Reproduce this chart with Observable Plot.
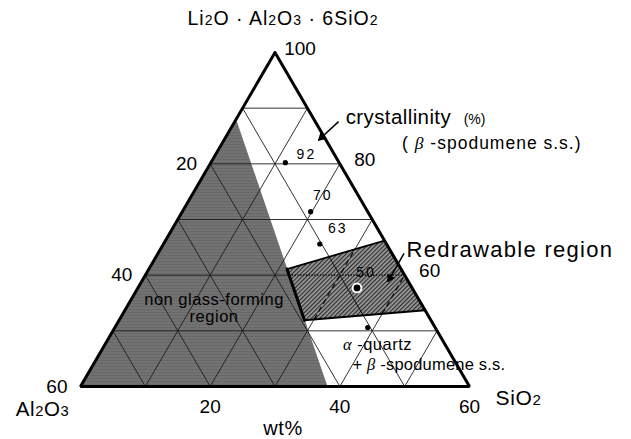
<!DOCTYPE html>
<html>
<head>
<meta charset="utf-8">
<script src="https://cdn.jsdelivr.net/npm/d3@7"></script>
<script src="https://cdn.jsdelivr.net/npm/@observablehq/plot@0.6"></script>
<style>
  html, body { margin: 0; padding: 0; background: #fff; }
  #chart svg { display: block; }
</style>
</head>
<body>
<div id="chart"></div>
<script>
// Ternary section: Li2O·Al2O3·6SiO2 (40–100 wt%), Al2O3 (0–60 wt%), SiO2 (0–60 wt%)
const gridSteps = [10, 20, 30, 40, 50];
const lasTicks = [60, 80, 100];
const al2o3Ticks = [20, 40, 60];
const sio2Ticks = [20, 40, 60];

// Non glass-forming region (wt% SiO2, wt% Al2O3 of each corner)
const nonGlassSiO2 = [0, 0, 38.1];
const nonGlassAl2O3 = [12, 60, 21.9];

// Redrawable region
const redrawSiO2 = [21.3, 33.8, 46.3, 28.6];
const redrawAl2O3 = [17.6, 0, 0, 19.5];

// Glass-ceramic compositions and their β-spodumene crystallinity (%)
const sampleSiO2 = [11.5, 19.8, 24.1, 33.8, 39.0];
const sampleAl2O3 = [8.3, 8.8, 10.3, 8.5, 10.4];
const crystallinity = [92, 70, 63, 50, null];

// Callout arrows (plot units: x along the base, y up from the base)
const calloutFrom = [[39.8, 41.2], [49.9, 20.7]];
const calloutTo = [[36.7, 38.3], [47.4, 16.3]];

// ---- ternary → cartesian (base = 60 wt% wide) ----
const SQ3 = Math.sqrt(3);
const H = 30 * SQ3;
function tern(si, al) {
  const t = 60 - si - al; // LAS6 above 40 wt%
  return [si + t / 2, t * SQ3 / 2];
}
const closed = (pts) => [...pts, pts[0]];

const xSpec = {domain: [0, 60], range: [80, 469]};
const ySpec = {domain: [0, H], range: [386, 52]};
const sx = d3.scaleLinear(xSpec.domain, xSpec.range);
const sy = d3.scaleLinear(ySpec.domain, ySpec.range);

const corners = [tern(0, 0), tern(0, 60), tern(60, 0)];
const nonGlass = nonGlassSiO2.map((s, i) => tern(s, nonGlassAl2O3[i]));
const redraw = redrawSiO2.map((s, i) => tern(s, redrawAl2O3[i]));

// grid lines of the three families
const grid = [];
for (const k of gridSteps) {
  const las = 40 + k;
  grid.push({family: "LAS", a: tern(0, 100 - las), b: tern(100 - las, 0)});
  grid.push({family: "SiO2", a: tern(k, 60 - k), b: tern(k, 0)});
  grid.push({family: "Al2O3", a: tern(60 - k, k), b: tern(0, k)});
}

// clip a segment to a convex polygon (Cyrus–Beck)
function clipSegment(p, q, poly) {
  let area = 0;
  for (let i = 0; i < poly.length; i++) {
    const a = poly[i], b = poly[(i + 1) % poly.length];
    area += a[0] * b[1] - b[0] * a[1];
  }
  const sgn = Math.sign(area);
  const dx = q[0] - p[0], dy = q[1] - p[1];
  let t0 = 0, t1 = 1;
  for (let i = 0; i < poly.length; i++) {
    const a = poly[i], b = poly[(i + 1) % poly.length];
    const ex = b[0] - a[0], ey = b[1] - a[1];
    const num = sgn * (ex * (p[1] - a[1]) - ey * (p[0] - a[0]));
    const den = sgn * (ex * dy - ey * dx);
    if (Math.abs(den) < 1e-12) { if (num < 0) return null; continue; }
    const t = -num / den;
    if (den > 0) t0 = Math.max(t0, t); else t1 = Math.min(t1, t);
    if (t0 >= t1) return null;
  }
  return {a: [p[0] + t0 * dx, p[1] + t0 * dy], b: [p[0] + t1 * dx, p[1] + t1 * dy]};
}
const inner = grid
  .map(g => { const c = clipSegment(g.a, g.b, redraw); return c && {family: g.family, ...c}; })
  .filter(Boolean);

const samples = sampleSiO2.map((s, i) => {
  const xy = tern(s, sampleAl2O3[i]);
  return {x: xy[0], y: xy[1], c: crystallinity[i], inRegion: d3.polygonContains(redraw, xy)};
});
const labelOffsets = [[21, -8], [12, -16], [18, -15], [9, -15]];

// arrowheads: filled triangles just behind each tip
const heads = calloutTo.map((to, i) => {
  const from = calloutFrom[i];
  const px = sx(to[0]) - sx(from[0]), py = sy(to[1]) - sy(from[1]);
  const len = Math.hypot(px, py);
  const ux = px / len, uy = py / len;
  return {
    x: sx.invert(sx(to[0]) - ux * 4.2),
    y: sy.invert(sy(to[1]) - uy * 4.2),
    angle: Math.atan2(ux, -uy) * 180 / Math.PI
  };
});

// letter spacing per label (applied after rendering)
const tracking = new Map();
const X = d => d[0], Y = d => d[1];
const link = (data, opts) => Plot.link(data, {x1: d => d.a[0], y1: d => d.a[1], x2: d => d.b[0], y2: d => d.b[1], ...opts});
const note = (x, y, text, opts, spacing = 0) => {
  if (spacing) tracking.set(text.replace(/\n/g, ""), spacing);
  return Plot.text([{x, y, text}], {x: "x", y: "y", text: "text", ...opts});
};
for (const c of crystallinity) if (c != null) tracking.set(String(c), 2);

const plot = Plot.plot({
  width: 631,
  height: 439,
  margin: 0,
  x: {...xSpec, axis: null},
  y: {...ySpec, axis: null},
  style: {fontFamily: "'Liberation Sans', Arial, Helvetica, sans-serif", fontSize: "17px", background: "#fff", color: "#000"},
  marks: [
    Plot.line(closed(nonGlass), {x: X, y: Y, fill: "url(#grain)", stroke: "none"}),
    link(grid, {stroke: "#1c1c1c", strokeWidth: 0.9}),
    Plot.line(closed(redraw), {x: X, y: Y, fill: "url(#hatch)", stroke: "none"}),
    link(inner.filter(d => d.family === "Al2O3"), {stroke: "#111", strokeWidth: 1}),
    link(inner.filter(d => d.family === "SiO2"), {stroke: "#111", strokeWidth: 1.4, strokeDasharray: "5.5,3.5"}),
    link(inner.filter(d => d.family === "LAS"), {stroke: "#111", strokeWidth: 1.6, strokeDasharray: "1.2,1.6"}),
    Plot.line([redraw[0], redraw[1]], {x: X, y: Y, stroke: "#000", strokeWidth: 1.8}),
    Plot.line([redraw[2], redraw[3]], {x: X, y: Y, stroke: "#000", strokeWidth: 1.8}),
    Plot.line([redraw[3], redraw[0]], {x: X, y: Y, stroke: "#000", strokeWidth: 3}),
    Plot.line(closed(corners), {x: X, y: Y, stroke: "#000", strokeWidth: 3, strokeLinejoin: "miter"}),

    // compositions
    Plot.dot(samples.filter(d => !d.inRegion), {x: "x", y: "y", r: 2.6, fill: "#000", stroke: "none"}),
    Plot.dot(samples.filter(d => d.inRegion), {x: "x", y: "y", r: 4.4, fill: "#000", stroke: "#fff", strokeWidth: 2}),
    ...samples.map((d, i) => d.c == null ? null : Plot.text([d], {
      x: "x", y: "y", text: d => String(d.c), dx: labelOffsets[i][0], dy: labelOffsets[i][1],
      fontSize: 14, fill: "#000"
    })).filter(Boolean),

    // callouts
    Plot.link(calloutFrom.map((f, i) => ({a: f, b: calloutTo[i]})), {
      x1: d => d.a[0], y1: d => d.a[1], x2: d => d.b[0], y2: d => d.b[1], stroke: "#000", strokeWidth: 1.5
    }),
    Plot.dot(heads, {x: "x", y: "y", rotate: "angle", symbol: "triangle", r: 3.3, fill: "#000", stroke: "none"}),

    // tick labels
    Plot.text(lasTicks, {x: v => tern(100 - v, 0)[0], y: v => tern(100 - v, 0)[1], text: String, dx: 25, dy: -4, fontSize: 19}),
    Plot.text(al2o3Ticks, {x: v => tern(0, v)[0], y: v => tern(0, v)[1], text: String, textAnchor: "end", dx: -13, dy: 0, fontSize: 19}),
    Plot.text(sio2Ticks, {x: v => tern(v, 60 - v)[0], y: v => tern(v, 60 - v)[1], text: String, dy: 20, fontSize: 19}),

    // component names
    note(corners[0][0], corners[0][1], "Li2O · Al2O3 · 6SiO2", {dx: 8, dy: -34, fontSize: 19.5}, 1),
    note(corners[1][0], corners[1][1], "Al2O3", {dx: -38, dy: 23, fontSize: 20.5}, 0.6),
    note(corners[2][0], corners[2][1], "SiO2", {dx: 49, dy: 12, fontSize: 21}, 0.6),
    note(tern(30, 30)[0], tern(30, 30)[1], "wt%", {dx: 8, dy: 42, fontSize: 20}, 0.6),

    // region annotations
    note(40.9, 41.85, "crystallinity", {textAnchor: "start", fontSize: 20.5}, 0.4),
    note(59.1, 41.6, "(%)", {textAnchor: "start", fontSize: 14}),
    note(49.6, 37.8, "( β -spodumene s.s.)", {textAnchor: "start", fontSize: 17.5}, 1),
    note(50.3, 21.3, "Redrawable region", {textAnchor: "start", fontSize: 22}, 1.3),
    note(20.6, 12.2, "non glass-forming\nregion", {fontSize: 16.5, lineHeight: 1.05}, 0.5),
    note(45.8, 6.5, "α -quartz", {fontSize: 16.5}, 0.5),
    note(41.95, 3.4, "+ β -spodumene s.s.", {textAnchor: "start", fontSize: 16.5}, 0.2)
  ]
});

// fill patterns for the two shaded regions
const defs = d3.create("svg:defs");
const grain = defs.append("pattern").attr("id", "grain").attr("patternUnits", "userSpaceOnUse")
  .attr("width", 7).attr("height", 3);
grain.append("rect").attr("width", 7).attr("height", 3).attr("fill", "#686868");
grain.append("rect").attr("y", 1).attr("width", 7).attr("height", 1).attr("fill", "#7b7b7b");
const hatch = defs.append("pattern").attr("id", "hatch").attr("patternUnits", "userSpaceOnUse")
  .attr("width", 3).attr("height", 3).attr("patternTransform", "rotate(45)");
hatch.append("rect").attr("width", 3).attr("height", 3).attr("fill", "#9c9c9c");
hatch.append("rect").attr("width", 1.2).attr("height", 3).attr("fill", "#2c2c2c");
plot.insertBefore(defs.node(), plot.firstChild);

// letter spacing, chemical subscripts and italic Greek letters
const svgNS = "http://www.w3.org/2000/svg";
for (const t of plot.querySelectorAll("text")) {
  const key = t.textContent;
  if (tracking.has(key)) t.setAttribute("letter-spacing", tracking.get(key));
  if (t.children.length) continue;
  const s = t.textContent;
  if (!/[A-Za-z]\d|[αβ]/.test(s)) continue;
  t.textContent = "";
  let buf = "";
  const flush = () => { if (buf) { t.appendChild(document.createTextNode(buf)); buf = ""; } };
  for (let i = 0; i < s.length; i++) {
    const ch = s[i];
    if (/\d/.test(ch) && i > 0 && /[A-Za-z]/.test(s[i - 1])) {
      flush();
      const ts = document.createElementNS(svgNS, "tspan");
      ts.setAttribute("font-size", "0.72em");
      ts.textContent = ch;
      t.appendChild(ts);
    } else if (/[αβ]/.test(ch)) {
      flush();
      const ts = document.createElementNS(svgNS, "tspan");
      ts.setAttribute("font-style", "italic");
      ts.setAttribute("font-family", "'Liberation Serif', 'DejaVu Serif', serif");
      ts.textContent = ch;
      t.appendChild(ts);
    } else buf += ch;
  }
  flush();
}

document.getElementById("chart").appendChild(plot);
</script>
</body>
</html>
